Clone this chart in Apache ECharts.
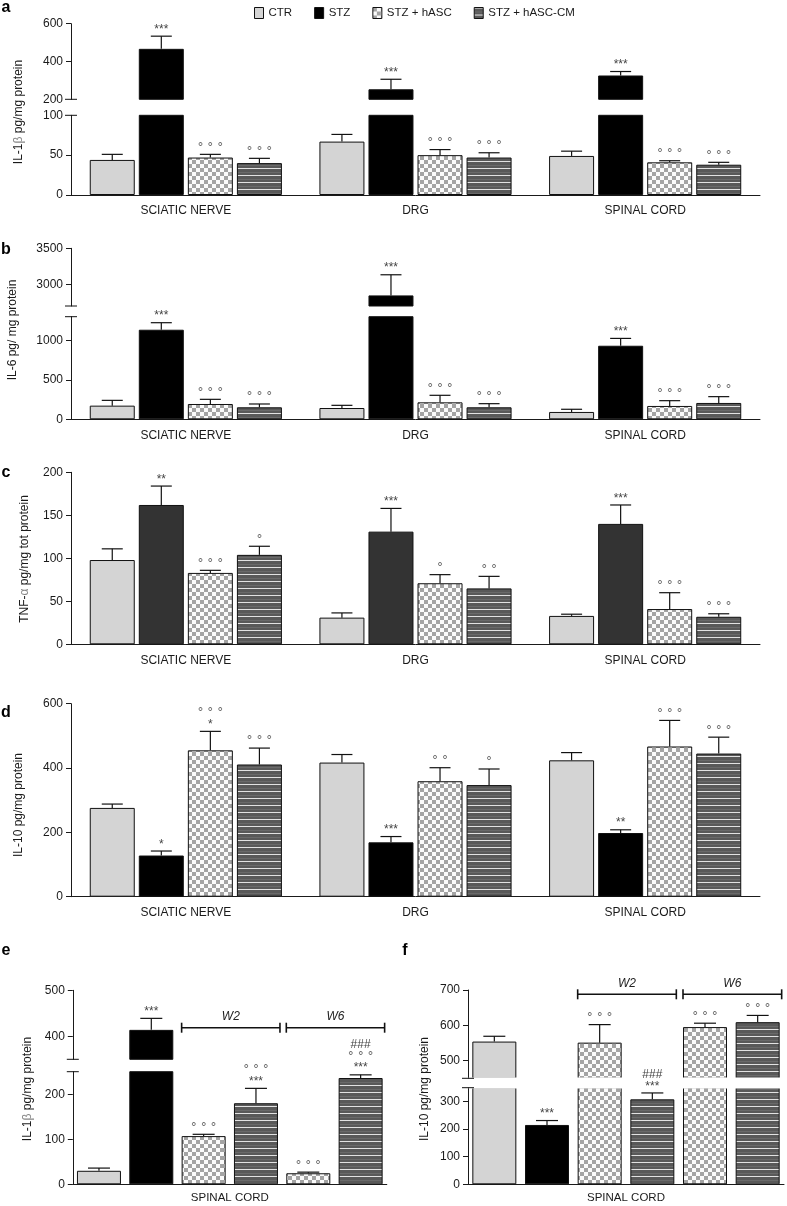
<!DOCTYPE html>
<html><head><meta charset="utf-8">
<script src="https://cdn.jsdelivr.net/npm/echarts@6/dist/echarts.min.js"></script>
<style>html,body{margin:0;padding:0;background:#fff}#c{width:787px;height:1206px}</style>
</head><body><div id="c"></div>
<script>
// ---------------- DATA ----------------
const tissues = ['SCIATIC NERVE', 'DRG', 'SPINAL CORD'];
const groups = ['CTR', 'STZ', 'STZ + hASC', 'STZ + hASC-CM'];

// a: IL-1β (pg/mg protein)
const aCTR = [44, 67, 49],   aCTRsem = [7, 9, 6];
const aSTZ = [467, 253, 326], aSTZsem = [67, 53, 21];
const aHASC = [47, 50, 41],  aHASCsem = [4, 7, 2];
const aCM = [40, 47, 38],    aCMsem = [6, 6, 3];
const aSigSTZ = ['***', '***', '***'], aSigHASC = ['°°°', '°°°', '°°°'], aSigCM = ['°°°', '°°°', '°°°'];

// b: IL-6 (pg/mg protein)
const bCTR = [173, 143, 93],    bCTRsem = [67, 34, 34];
const bSTZ = [1135, 2847, 932], bSTZsem = [89, 286, 93];
const bHASC = [194, 215, 169],  bHASCsem = [59, 89, 67];
const bCM = [152, 152, 207],    bCMsem = [42, 46, 80];
const bSigSTZ = ['***', '***', '***'], bSigHASC = ['°°°', '°°°', '°°°'], bSigCM = ['°°°', '°°°', '°°°'];

// c: TNF-α (pg/mg tot protein)
const cCTR = [98, 31, 33],    cCTRsem = [13, 5.5, 2];
const cSTZ = [162, 131, 140], cSTZsem = [22, 27, 22];
const cHASC = [83, 71, 41],   cHASCsem = [3, 10, 19];
const cCM = [104, 65, 32],    cCMsem = [10, 14, 3.5];
const cSigSTZ = ['**', '***', '***'], cSigHASC = ['°°°', '°', '°°°'], cSigCM = ['°', '°°', '°°°'];

// d: IL-10 (pg/mg protein)
const dCTR = [276, 417, 424], dCTRsem = [12, 25, 24];
const dSTZ = [128, 169, 198], dSTZsem = [14, 18, 10];
const dHASC = [455, 359, 467], dHASCsem = [59, 42, 81];
const dCM = [411, 347, 445],  dCMsem = [51, 50, 51];
const dSigSTZ = ['*', '***', '**'], dSigHASC = ['°°°\n*', '°°', '°°°'], dSigCM = ['°°°', '°', '°°°'];

// e, f: spinal cord, weeks 2 and 6
const timeBars = ['CTR', 'STZ', 'STZ + hASC W2', 'STZ + hASC-CM W2', 'STZ + hASC W6', 'STZ + hASC-CM W6'];
const timeKinds = [0, 1, 2, 3, 2, 3];
const periods = ['W2', 'W6'];
const periodBars = [[2, 3], [4, 5]];
const eVal = [30, 414, 107, 180, 24.5, 236], eSem = [6, 25, 4, 33, 2.5, 7];
const eSig = ['', '***', '°°°', '°°°\n***', '°°°', '###\n°°°\n***'];
const fVal = [554, 215, 551, 308, 595, 609], fSem = [15, 16, 51, 23, 11, 19];
const fSig = ['', '***', '°°°', '###\n***', '°°°', '°°°'];

// ---------------- STYLE ----------------
const FONT = '"Liberation Sans", Arial, Helvetica, sans-serif';
const INK = '#1a1a1a';
function mkCanvas(w, h, draw) { const c = document.createElement('canvas'); c.width = w; c.height = h; draw(c.getContext('2d')); return c; }
const checker = mkCanvas(8, 8, g => { g.fillStyle = '#fbfbfb'; g.fillRect(0, 0, 8, 8); g.fillStyle = '#a4a4a4'; g.fillRect(0, 0, 4, 4); g.fillRect(4, 4, 4, 4); });
const stripes = mkCanvas(8, 7, g => { g.fillStyle = '#595959'; g.fillRect(0, 0, 8, 7); g.fillStyle = '#e2e2e2'; g.fillRect(0, 0, 8, 1); g.fillStyle = '#6a6a6a'; g.fillRect(0, 4, 8, 1); });
const fillCTR = '#d4d4d4', fillSTZ = '#000000', fillSTZc = '#333333';
const fillHASC = { image: checker, repeat: 'repeat' };
const fillCM = { image: stripes, repeat: 'repeat' };

const grids = [], xAxes = [], yAxes = [], series = [];

function yAxisDef(gi, s) {
  return {
    type: 'value', gridIndex: gi, min: s.min, max: s.max, splitLine: { show: false },
    axisLine: { show: true, lineStyle: { color: INK, width: 1 } },
    axisTick: { show: true, length: 5, customValues: s.ticks, lineStyle: { color: INK, width: 1 } },
    axisLabel: { customValues: s.labels, formatter: v => String(v), fontSize: 12, color: INK, margin: 8, fontFamily: FONT }
  };
}
function line(x1, y1, x2, y2, w) { return { type: 'line', shape: { x1, y1, x2, y2 }, style: { stroke: '#111', lineWidth: w || 1.2 } }; }
function richSig(s) {
  return s.split('\n').map(l => l.indexOf('°') >= 0 ? '{c|' + l.split('').join(' ') + '}' : '{s|' + l + '}').join('\n');
}
const sigRich = {
  c: { fontSize: 12, fontFamily: 'DejaVu Sans', fill: '#666', lineHeight: 11.5 },
  s: { fontSize: 12, fontFamily: FONT, fill: '#444', lineHeight: 11.5 }
};
function errRender(labs, offFn, cap) {
  return function (params, api) {
    const i = api.value(0), v = api.value(1), t = api.value(2), k = api.value(3);
    const a = api.coord([i, v]), b = api.coord([i, t]);
    const x = a[0] + offFn(k);
    const ch = [line(x, a[1], x, b[1]), line(x - cap / 2, b[1], x + cap / 2, b[1])];
    const lb = labs[params.dataIndex];
    if (lb) ch.push({ type: 'text', style: { text: richSig(lb), rich: sigRich, x: x, y: b[1] - 1, align: 'center', verticalAlign: 'bottom', fontSize: 12, fontFamily: FONT, fill: '#555', lineHeight: 11.5 } });
    return { type: 'group', children: ch };
  };
}
function breakRender(params, api) {
  const y = api.coord([0, api.value(1)])[1];
  const x = params.coordSys.x;
  return line(x - 6, y, x + 6, y, 1);
}

const BW = 45, GAP = 0.09, PITCH = BW * (1 + GAP);
function grouped(p) {
  p.segs.forEach((s, si) => {
    const gi = grids.length;
    grids.push({ left: 71, width: 689, top: s.top, height: s.bottom - s.top, containLabel: false, outerBoundsMode: 'none' });
    const isBottom = si === p.segs.length - 1;
    xAxes.push({ type: 'category', gridIndex: gi, data: tissues, show: isBottom,
      axisLine: { lineStyle: { color: INK, width: 1 } }, axisTick: { show: false },
      axisLabel: { interval: 0, fontSize: 12, color: INK, margin: 10, fontFamily: FONT } });
    yAxes.push(yAxisDef(gi, s));
    p.vals.forEach((arr, k) => {
      series.push({ type: 'bar', name: groups[k], xAxisIndex: gi, yAxisIndex: gi, barWidth: BW, barGap: (GAP * 100) + '%',
        data: arr.map(v => v >= s.min ? v : '-'), clip: true, silent: true,
        itemStyle: { color: p.colors[k], borderColor: '#111', borderWidth: 1 } });
    });
    const items = [], labs = [];
    p.vals.forEach((arr, k) => arr.forEach((v, i) => {
      if (v >= s.min && v <= s.max) { items.push([i, v, v + p.sems[k][i], k]); labs.push(p.sigs[k][i]); }
    }));
    series.push({ type: 'custom', xAxisIndex: gi, yAxisIndex: gi, data: items, silent: true, z: 5,
      renderItem: errRender(labs, k => (k - 1.5) * PITCH, 21) });
    if (s.breaks) series.push({ type: 'custom', xAxisIndex: gi, yAxisIndex: gi, data: s.breaks.map(b => [0, b]), silent: true, z: 6, renderItem: breakRender });
  });
}

const BW2 = 44;
function timePanel(p) {
  const fills = [fillCTR, fillSTZ, fillHASC, fillCM];
  p.segs.forEach((s, si) => {
    const gi = grids.length;
    grids.push({ left: p.left, width: p.width, top: s.top, height: s.bottom - s.top, containLabel: false, outerBoundsMode: 'none' });
    const isBottom = si === p.segs.length - 1;
    xAxes.push({ type: 'category', gridIndex: gi, data: timeBars, show: isBottom,
      name: tissues[2], nameLocation: 'middle', nameGap: 8,
      nameTextStyle: { fontSize: 11.5, color: INK, fontFamily: FONT },
      axisLine: { lineStyle: { color: INK, width: 1 } }, axisTick: { show: false }, axisLabel: { show: false } });
    yAxes.push(yAxisDef(gi, s));
    series.push({ type: 'bar', xAxisIndex: gi, yAxisIndex: gi, barWidth: BW2, clip: true, silent: true,
      itemStyle: { borderColor: '#111', borderWidth: 1 },
      data: p.vals.map((v, i) => ({ value: v >= s.min ? v : '-', itemStyle: { color: fills[timeKinds[i]] } })) });
    const items = [], labs = [];
    p.vals.forEach((v, i) => { if (v >= s.min && v <= s.max) { items.push([i, v, v + p.sems[i], 0]); labs.push(p.sigs[i]); } });
    series.push({ type: 'custom', xAxisIndex: gi, yAxisIndex: gi, data: items, silent: true, z: 5,
      renderItem: errRender(labs, k => 0, 22) });
    if (s.breaks) series.push({ type: 'custom', xAxisIndex: gi, yAxisIndex: gi, data: s.breaks.map(b => [0, b]), silent: true, z: 6, renderItem: breakRender });
    if (si === 0) {
      if (p.cutGap) {
        // white cut through the bars at the axis break (bars continue across the gap)
        series.push({ type: 'custom', xAxisIndex: gi, yAxisIndex: gi, silent: true, z: 4, data: [[0, s.min]],
          renderItem: function (params) {
            const cs = params.coordSys;
            return { type: 'rect', shape: { x: cs.x + 0.6, y: cs.y + cs.height - 0.8, width: cs.width, height: p.cutGap + 1.6 }, style: { fill: '#fff' } };
          } });
      }
      series.push({ type: 'custom', xAxisIndex: gi, yAxisIndex: gi, silent: true, z: 6,
        data: periodBars.map(r => [r[0], r[1]]),
        renderItem: function (params, api) {
          const x1 = api.coord([api.value(0), s.min])[0] - BW2 / 2;
          const x2 = api.coord([api.value(1), s.min])[0] + BW2 / 2 + 2;
          const y = params.coordSys.y + p.bracketDy;
          return { type: 'group', children: [
            line(x1, y, x2, y, 1.6), line(x1, y - 5, x1, y + 5, 1.6), line(x2, y - 5, x2, y + 5, 1.6),
            { type: 'text', style: { text: periods[params.dataIndex], x: (x1 + x2) / 2, y: y - 11, align: 'center', verticalAlign: 'middle', fontSize: 12, fontStyle: 'italic', fontFamily: FONT, fill: '#222' } }
          ] };
        } });
    }
  });
}

// ---------------- PANELS ----------------
grouped({
  segs: [
    { top: 23.7, bottom: 99.3, min: 200, max: 600, ticks: [400, 600], labels: [200, 400, 600], breaks: [200] },
    { top: 115.3, bottom: 195, min: 0, max: 100, ticks: [0, 50], labels: [0, 50, 100], breaks: [100] }
  ],
  vals: [aCTR, aSTZ, aHASC, aCM], sems: [aCTRsem, aSTZsem, aHASCsem, aCMsem],
  sigs: [['', '', ''], aSigSTZ, aSigHASC, aSigCM], colors: [fillCTR, fillSTZ, fillHASC, fillCM]
});
grouped({
  segs: [
    { top: 248.3, bottom: 306, min: 2700, max: 3500, ticks: [3000, 3500], labels: [3000, 3500], breaks: [2700] },
    { top: 316.7, bottom: 419.3, min: 0, max: 1300, ticks: [0, 500, 1000], labels: [0, 500, 1000], breaks: [1300] }
  ],
  vals: [bCTR, bSTZ, bHASC, bCM], sems: [bCTRsem, bSTZsem, bHASCsem, bCMsem],
  sigs: [['', '', ''], bSigSTZ, bSigHASC, bSigCM], colors: [fillCTR, fillSTZ, fillHASC, fillCM]
});
grouped({
  segs: [{ top: 472.3, bottom: 644.3, min: 0, max: 200, ticks: [0, 50, 100, 150, 200], labels: [0, 50, 100, 150, 200] }],
  vals: [cCTR, cSTZ, cHASC, cCM], sems: [cCTRsem, cSTZsem, cHASCsem, cCMsem],
  sigs: [['', '', ''], cSigSTZ, cSigHASC, cSigCM], colors: [fillCTR, fillSTZc, fillHASC, fillCM]
});
grouped({
  segs: [{ top: 703.7, bottom: 896.7, min: 0, max: 600, ticks: [0, 200, 400, 600], labels: [0, 200, 400, 600] }],
  vals: [dCTR, dSTZ, dHASC, dCM], sems: [dCTRsem, dSTZsem, dHASCsem, dCMsem],
  sigs: [['', '', ''], dSigSTZ, dSigHASC, dSigCM], colors: [fillCTR, fillSTZ, fillHASC, fillCM]
});
timePanel({
  left: 72.8, width: 314, bracketDy: 37.4,
  segs: [
    { top: 990.3, bottom: 1059.3, min: 350, max: 500, ticks: [400, 500], labels: [400, 500], breaks: [350] },
    { top: 1071.7, bottom: 1184.3, min: 0, max: 250, ticks: [0, 100, 200], labels: [0, 100, 200], breaks: [250] }
  ],
  vals: eVal, sems: eSem, sigs: eSig
});
timePanel({
  left: 468, width: 316, bracketDy: 4.3, cutGap: 9.4,
  segs: [
    { top: 990, bottom: 1078.3, min: 450, max: 700, ticks: [500, 600, 700], labels: [500, 600, 700], breaks: [450] },
    { top: 1087.7, bottom: 1184.3, min: 0, max: 350, ticks: [0, 100, 200, 300], labels: [0, 100, 200, 300], breaks: [350] }
  ],
  vals: fVal, sems: fSem, sigs: fSig
});

// ---------------- TEXT ----------------
const yNames = [
  { x: 19, y: 112, t: 'IL-1{g|β} pg/mg protein' },
  { x: 13, y: 330, t: 'IL-6 pg/ mg protein' },
  { x: 25, y: 559, t: 'TNF-{g|α} pg/mg tot protein' },
  { x: 19, y: 805, t: 'IL-10 pg/mg protein' },
  { x: 28, y: 1089, t: 'IL-1{g|β} pg/mg protein' },
  { x: 425, y: 1089, t: 'IL-10 pg/mg protein' }
];
const letters = [['a', 6, 8], ['b', 6, 250], ['c', 6, 473], ['d', 6, 713], ['e', 6, 951], ['f', 405, 951]];
const graphic = [];
yNames.forEach(n => graphic.push({ type: 'text', x: n.x, y: n.y, rotation: Math.PI / 2,
  style: { text: n.t, align: 'center', verticalAlign: 'middle', fontSize: 12, fontFamily: FONT, fill: INK, rich: { g: { fill: '#888', fontSize: 12, fontFamily: FONT } } } }));
letters.forEach(l => graphic.push({ type: 'text', x: l[1], y: l[2],
  style: { text: l[0], align: 'center', verticalAlign: 'middle', fontSize: 16, fontWeight: 'bold', fontFamily: FONT, fill: '#000' } }));

const chart = echarts.init(document.getElementById('c'), null, { renderer: 'canvas' });
chart.setOption({
  animation: false,
  backgroundColor: '#fff',
  legend: { data: groups, left: 249, top: 2, icon: 'rect', itemWidth: 9, itemHeight: 11, itemGap: 22, selectedMode: false,
    itemStyle: { borderColor: '#111', borderWidth: 1 },
    textStyle: { fontSize: 11.5, color: INK, fontFamily: FONT } },
  grid: grids, xAxis: xAxes, yAxis: yAxes, series: series, graphic: graphic
});
</script></body></html>
